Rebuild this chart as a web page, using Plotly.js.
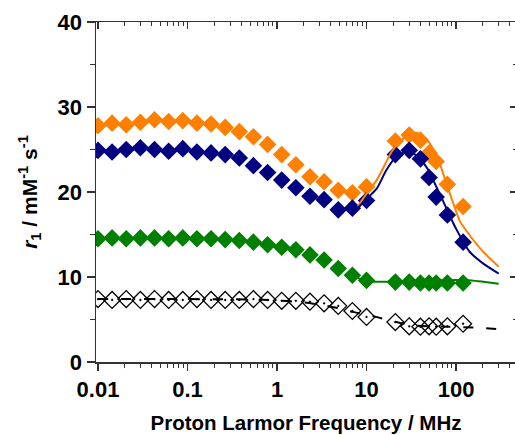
<!DOCTYPE html>
<html>
<head>
<meta charset="utf-8">
<script src="https://cdn.plot.ly/plotly-3.0.1.min.js"></script>
<style>
html,body{margin:0;padding:0;overflow:hidden;background:#fff;}
#chart{width:518px;height:435px;}
</style>
</head>
<body>
<div id="chart"></div>
<script>
// Measured frequencies (MHz)
const freqLow = [0.01, 0.01438, 0.02069, 0.02976, 0.04281, 0.06158, 0.08859, 0.1274, 0.1833, 0.2637,
                 0.3793, 0.5456, 0.7848, 1.129, 1.624, 2.336, 3.360, 4.833, 6.952, 10.0];
const freqHigh = [21, 30, 40, 50, 60, 80, 120];
const freq = freqLow.concat(freqHigh);

// Relaxivity data r1 (mM^-1 s^-1)
const orangeR1 = [27.8, 28.1, 27.9, 28.2, 28.5, 28.3, 28.4, 28.1, 28.0, 27.6,
                  27.1, 26.5, 25.6, 24.4, 23.2, 21.8, 21.2, 20.2, 19.9, 20.6,
                  26.0, 26.7, 26.1, 24.6, 23.6, 20.9, 18.3];
const blueR1 = [24.9, 24.7, 25.0, 25.2, 25.0, 24.8, 25.1, 24.7, 24.6, 24.4,
                24.0, 23.1, 22.3, 21.4, 20.5, 19.5, 19.1, 17.9, 18.1, 19.0,
                24.4, 24.9, 23.9, 21.7, 19.4, 17.3, 14.1];
const greenR1 = [14.5, 14.6, 14.5, 14.6, 14.6, 14.5, 14.6, 14.5, 14.5, 14.4,
                 14.3, 14.1, 13.8, 13.5, 13.2, 12.6, 12.0, 11.0, 10.2, 9.6,
                 9.4, 9.4, 9.3, 9.3, 9.3, 9.3, 9.3];
const blackR1 = [7.4, 7.3, 7.4, 7.3, 7.4, 7.3, 7.3, 7.4, 7.3, 7.3,
                 7.3, 7.4, 7.3, 7.2, 7.2, 7.1, 6.9, 6.6, 6.0, 5.3,
                 4.7, 4.2, 4.15, 4.2, 4.15, 4.2, 4.5];

// Fitted curves
const orangeFitF = [8, 10, 13, 16, 19, 23.6, 28.4, 33, 38, 45, 56, 66, 78, 93, 110, 140, 200, 300];
const orangeFitR = [18.3, 19.8, 21.4, 23.2, 24.7, 25.9, 26.7, 27.0, 26.9, 26.4, 25.0, 23.3, 21.0, 18.7, 16.6, 15.0, 13.0, 11.2];
const blueFitF = [8, 10, 13, 16.5, 20.8, 25.5, 30.5, 37.5, 49, 61, 72, 85, 101, 141, 200, 300];
const blueFitR = [18.1, 19.2, 20.4, 22.5, 24.0, 24.6, 24.7, 24.2, 22.6, 20.5, 18.9, 17.2, 15.6, 13.0, 11.6, 10.4];
const greenFitF = [8, 10, 15, 30, 60, 100, 150, 200, 300];
const greenFitR = [9.9, 9.5, 9.45, 9.5, 9.6, 9.65, 9.6, 9.45, 9.2];
const blackFitF = [0.01, 0.1, 0.5, 1, 2, 3, 5, 7, 10, 13.5, 18, 25, 35, 50, 80, 120, 200, 300];
const blackFitR = [7.4, 7.4, 7.35, 7.25, 7.0, 6.75, 6.3, 5.9, 5.55, 5.25, 4.9, 4.55, 4.3, 4.2, 4.15, 4.1, 4.0, 3.85];

// Tick labels
const xTickVals = [0.01, 0.1, 1, 10, 100];
const xTickText = ['0.01', '0.1', '1', '10', '100'];
const yTickVals = [0, 10, 20, 30, 40];

const ORANGE = '#FF8000', NAVY = '#000080', GREEN = '#008000';

const xMinor = [];
[0.01, 0.1, 1, 10, 100].forEach(d => { for (let k = 2; k <= 9; k++) xMinor.push(d * k); });
const yMinor = [5, 15, 25, 35];

const mk = (c) => ({symbol: 'diamond', size: 13.5, color: c, line: {width: 0}});

const traces = [
  {x: freq, y: orangeR1, mode: 'markers', marker: mk(ORANGE), type: 'scatter'},
  {x: freq, y: blueR1, mode: 'markers', marker: mk(NAVY), type: 'scatter'},
  {x: freq, y: greenR1, mode: 'markers', marker: mk(GREEN), type: 'scatter'},
  {x: freq, y: blackR1, mode: 'markers', type: 'scatter',
   marker: {symbol: 'diamond-open-dot', size: 13, color: '#000', line: {color: '#000', width: 1.3}}},
  {x: orangeFitF, y: orangeFitR, mode: 'lines', line: {color: ORANGE, width: 2, shape: 'spline', smoothing: 0.6}, type: 'scatter'},
  {x: blueFitF, y: blueFitR, mode: 'lines', line: {color: NAVY, width: 2, shape: 'spline', smoothing: 0.6}, type: 'scatter'},
  {x: greenFitF, y: greenFitR, mode: 'lines', line: {color: GREEN, width: 2, shape: 'spline', smoothing: 0.6}, type: 'scatter'},
  {x: blackFitF, y: blackFitR, mode: 'lines', line: {color: '#000', width: 2, dash: '10px,13px', shape: 'spline', smoothing: 0.6}, type: 'scatter'},
  {x: [1], y: [10], xaxis: 'x2', yaxis: 'y2', mode: 'markers', marker: {opacity: 0}, hoverinfo: 'skip', type: 'scatter'}
];

const xr = [-2.022, 2.670];
const fnt = {family: 'Arial, Liberation Sans, sans-serif', size: 22, color: '#000', weight: 'bold'};
const axCol = '#333';

const layout = {
  width: 518, height: 435,
  margin: {l: 96, r: 2, t: 22, b: 73},
  showlegend: false,
  paper_bgcolor: '#fff', plot_bgcolor: '#fff',
  font: fnt,
  xaxis: {
    type: 'log', range: xr, tickmode: 'array', tickvals: xTickVals, ticktext: xTickText,
    ticks: 'outside', ticklen: 7, tickwidth: 1.3, tickcolor: axCol,
    showline: true, linecolor: axCol, linewidth: 1.5, showgrid: false, zeroline: false,
    tickfont: fnt,
    minor: {tickmode: 'array', tickvals: xMinor, ticks: 'outside', ticklen: 4, tickwidth: 1, tickcolor: axCol, showgrid: false},
    title: {text: 'Proton Larmor Frequency / MHz', font: {family: 'Arial, Liberation Sans, sans-serif', size: 20.5, color: '#000', weight: 'bold'}, standoff: 14}
  },
  yaxis: {
    range: [0, 40], tickmode: 'array', tickvals: yTickVals,
    ticks: 'outside', ticklen: 8, tickwidth: 1.3, tickcolor: axCol,
    showline: true, linecolor: axCol, linewidth: 1.5, showgrid: false, zeroline: false,
    tickfont: fnt,
    minor: {tickmode: 'array', tickvals: yMinor, ticks: 'outside', ticklen: 5, tickwidth: 1, tickcolor: axCol, showgrid: false},
    title: {text: '<i>r</i><sub>1</sub> / mM<sup>-1</sup> s<sup>-1</sup>', font: {family: 'Arial, Liberation Sans, sans-serif', size: 21, color: '#000', weight: 'bold'}, standoff: 14}
  },
  xaxis2: {
    type: 'log', range: xr, overlaying: 'x', side: 'top', anchor: 'y2',
    tickmode: 'array', tickvals: xTickVals, showticklabels: false,
    ticks: 'inside', ticklen: 7, tickwidth: 1.3, tickcolor: axCol,
    showline: true, linecolor: axCol, linewidth: 1.5, showgrid: false, zeroline: false,
    minor: {tickmode: 'array', tickvals: xMinor, ticks: 'inside', ticklen: 4, tickwidth: 1, tickcolor: axCol, showgrid: false}
  },
  yaxis2: {
    range: [0, 40], overlaying: 'y', side: 'right', anchor: 'x2',
    tickmode: 'array', tickvals: yTickVals, showticklabels: false,
    ticks: 'inside', ticklen: 6, tickwidth: 1.3, tickcolor: axCol,
    showline: true, linecolor: axCol, linewidth: 1.5, showgrid: false, zeroline: false,
    minor: {tickmode: 'array', tickvals: yMinor, ticks: 'inside', ticklen: 3, tickwidth: 1, tickcolor: axCol, showgrid: false}
  }
};

Plotly.newPlot('chart', traces, layout, {staticPlot: true, displayModeBar: false});
</script>
</body>
</html>
